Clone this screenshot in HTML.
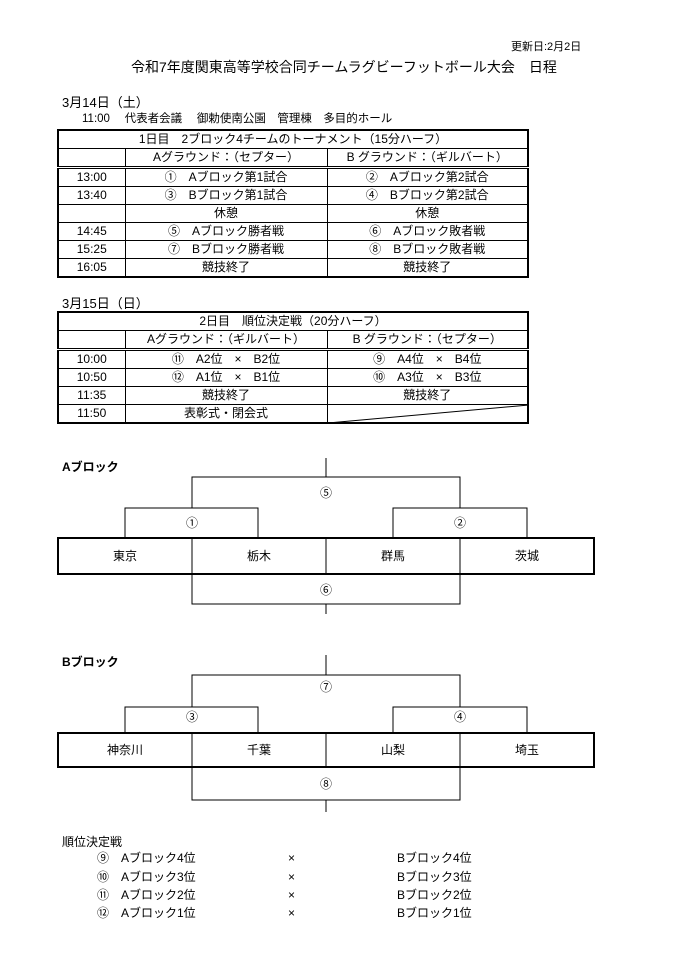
<!DOCTYPE html>
<html><head><meta charset="utf-8"><style>
body{margin:0;width:678px;height:960px;background:#fff;position:relative;font-family:"Liberation Sans","Noto Sans CJK JP",sans-serif;color:#000;overflow:hidden}
.t{position:absolute;font-size:12px;white-space:nowrap;line-height:1}
table{position:absolute;border-collapse:collapse;border:2px solid #000;font-size:12px;table-layout:fixed}
td{border:1px solid #000;text-align:center;padding:0;height:17px;line-height:17px}
tr.h td{border-bottom:3px double #000}
</style></head><body>
<div class="t" style="left:511px;top:42px;font-size:11px">更新日:2月2日</div>
<div class="t" style="left:131px;top:60px;font-size:14px">令和7年度関東高等学校合同チームラグビーフットボール大会　日程</div>
<div class="t" style="left:62px;top:96px;font-size:13px">3月14日（土）</div>
<div class="t" style="left:82px;top:114px;font-size:11.5px">11:00　 代表者会議　 御勅使南公園　管理棟　多目的ホール</div>
<table style="left:57px;top:129px;width:470px">
<colgroup><col style="width:67px"><col style="width:202px"><col style="width:201px"></colgroup>
<tr><td colspan="3">1日目　2ブロック4チームのトーナメント（15分ハーフ）</td></tr>
<tr class="h"><td></td><td>Aグラウンド：（セプター）</td><td>B グラウンド：（ギルバート）</td></tr>
<tr><td>13:00</td><td>①　Aブロック第1試合</td><td>②　Aブロック第2試合</td></tr>
<tr><td>13:40</td><td>③　Bブロック第1試合</td><td>④　Bブロック第2試合</td></tr>
<tr><td></td><td>休憩</td><td>休憩</td></tr>
<tr><td>14:45</td><td>⑤　Aブロック勝者戦</td><td>⑥　Aブロック敗者戦</td></tr>
<tr><td>15:25</td><td>⑦　Bブロック勝者戦</td><td>⑧　Bブロック敗者戦</td></tr>
<tr><td>16:05</td><td>競技終了</td><td>競技終了</td></tr>
</table>
<div class="t" style="left:62px;top:297px;font-size:13px">3月15日（日）</div>
<table style="left:57px;top:311px;width:470px">
<colgroup><col style="width:67px"><col style="width:202px"><col style="width:201px"></colgroup>
<tr><td colspan="3">2日目　順位決定戦（20分ハーフ）</td></tr>
<tr class="h"><td></td><td>Aグラウンド：（ギルバート）</td><td>B グラウンド：（セプター）</td></tr>
<tr><td>10:00</td><td>⑪　A2位　×　B2位</td><td>⑨　A4位　×　B4位</td></tr>
<tr><td>10:50</td><td>⑫　A1位　×　B1位</td><td>⑩　A3位　×　B3位</td></tr>
<tr><td>11:35</td><td>競技終了</td><td>競技終了</td></tr>
<tr><td>11:50</td><td>表彰式・閉会式</td><td style="position:relative"><svg width="201" height="18" style="position:absolute;left:0;top:0"><line x1="0" y1="18" x2="201" y2="0" stroke="#000" stroke-width="1"/></svg></td></tr>
</table>
<svg width="678" height="960" style="position:absolute;left:0;top:0" font-family="Liberation Sans,Noto Sans CJK JP,sans-serif" font-size="12" text-anchor="middle">
<g fill="none" stroke="#000" stroke-width="1">
<path d="M326 458V477M192 508V477H460V508M125 538V508H258V538M393 538V508H527V538M192 574V604H460V574M326 604V614"/>
<path d="M326 655V675M192 707V675H460V707M125 733V707H258V733M393 733V707H527V733M192 767V800H460V767M326 800V812"/>
<rect x="58" y="538" width="536" height="36" stroke-width="2"/>
<path d="M192 538V574M326 538V574M460 538V574"/>
<rect x="58" y="733" width="536" height="34" stroke-width="2"/>
<path d="M192 733V767M326 733V767M460 733V767"/>
</g>
<text x="326" y="497">⑤</text><text x="192" y="527">①</text><text x="460" y="527">②</text>
<text x="125" y="560">東京</text><text x="259" y="560">栃木</text><text x="393" y="560">群馬</text><text x="527" y="560">茨城</text>
<text x="326" y="594">⑥</text>
<text x="326" y="691">⑦</text><text x="192" y="721">③</text><text x="460" y="721">④</text>
<text x="125" y="754">神奈川</text><text x="259" y="754">千葉</text><text x="393" y="754">山梨</text><text x="527" y="754">埼玉</text>
<text x="326" y="788">⑧</text>
</svg>
<div class="t" style="left:62px;top:461px;font-size:12px;font-weight:bold">Aブロック</div>
<div class="t" style="left:62px;top:656px;font-size:12px;font-weight:bold">Bブロック</div>
<div class="t" style="left:62px;top:836px;font-size:12px">順位決定戦</div>
<div class="t" style="left:97px;top:852px">⑨　Aブロック4位</div><div class="t" style="left:288px;top:852px">×</div><div class="t" style="left:397px;top:852px">Bブロック4位</div>
<div class="t" style="left:97px;top:871px">⑩　Aブロック3位</div><div class="t" style="left:288px;top:871px">×</div><div class="t" style="left:397px;top:871px">Bブロック3位</div>
<div class="t" style="left:97px;top:889px">⑪　Aブロック2位</div><div class="t" style="left:288px;top:889px">×</div><div class="t" style="left:397px;top:889px">Bブロック2位</div>
<div class="t" style="left:97px;top:907px">⑫　Aブロック1位</div><div class="t" style="left:288px;top:907px">×</div><div class="t" style="left:397px;top:907px">Bブロック1位</div>
</body></html>
